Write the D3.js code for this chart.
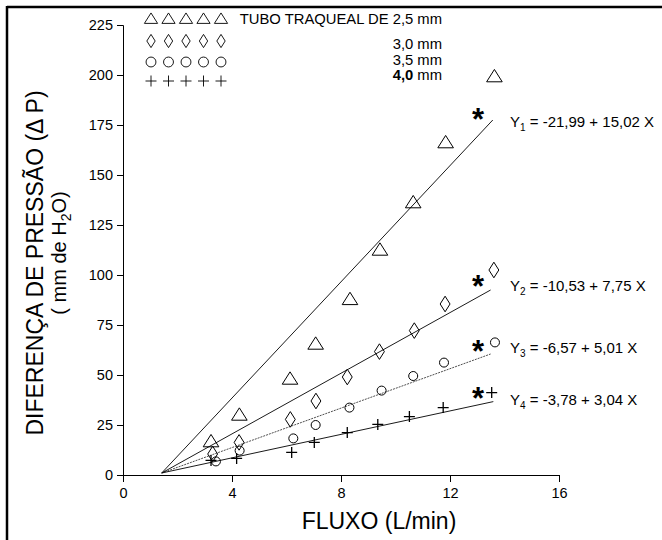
<!DOCTYPE html>
<html>
<head>
<meta charset="utf-8">
<script src="https://cdn.jsdelivr.net/npm/d3@7"></script>
<style>
  body { margin: 0; background: #fff; }
  svg text { font-family: "Liberation Sans", Arial, sans-serif; fill: #000; }
</style>
</head>
<body>
<div id="graph"></div>
<script>
// dados
let xTicks = [0, 4, 8, 12, 16];
let yTicks = [0, 25, 50, 75, 100, 125, 150, 175, 200, 225];

let tubo25 = [[3.23, 16.7], [4.27, 30], [6.13, 48], [7.07, 65.5], [8.33, 87.8], [9.43, 112.5], [10.65, 136.2], [11.84, 166.2], [13.63, 199.2]];
let tubo30 = [[3.29, 10.5], [4.26, 16.3], [6.14, 27.8], [7.08, 37], [8.23, 49], [9.41, 61.7], [10.69, 72.2], [11.82, 85.5], [13.61, 102.5]];
let tubo35 = [[3.41, 6.8], [4.28, 12.2], [6.25, 18.3], [7.07, 25], [8.31, 33.7], [9.49, 42.2], [10.65, 49.5], [11.78, 56.2], [13.65, 66.3]];
let tubo40 = [[3.23, 7.3], [4.17, 8.3], [6.19, 11.3], [7.02, 16.3], [8.23, 21.2], [9.35, 25.3], [10.51, 29.2], [11.75, 33.7], [13.53, 41.2]];

// retas de regressao (pontos inicial e final como aparecem)
let reta1 = [[1.42, 1], [13.57, 177.5]];
let reta2 = [[1.42, 1], [13.49, 92.5]];
let reta3 = [[1.42, 1], [13.49, 60.5]];
let reta4 = [[1.42, 1], [13.59, 36.7]];

let equacoes = [
  { y: "1", txt: " = -21,99 + 15,02 X" },
  { y: "2", txt: " = -10,53 + 7,75 X" },
  { y: "3", txt: " = -6,57 + 5,01 X" },
  { y: "4", txt: " = -3,78 + 3,04 X" }
];
let legenda = ["TUBO TRAQUEAL DE 2,5 mm", "3,0 mm", "3,5 mm", "4,0 mm"];

var svgWidth = 662;
var svgHeight = 540;
var margin = { top: 25, right: 103, bottom: 65, left: 123 };
var chartWidth = svgWidth - margin.left - margin.right;
var chartHeight = svgHeight - margin.top - margin.bottom;

var svg = d3.select("#graph").append("svg")
  .attr("width", svgWidth)
  .attr("height", svgHeight);

// moldura (so topo e esquerda aparecem)
svg.append("line").attr("x1", 7).attr("x2", svgWidth).attr("y1", 7).attr("y2", 7)
  .attr("stroke", "#000").attr("stroke-width", 2.5);
svg.append("line").attr("x1", 7).attr("x2", 7).attr("y1", 6).attr("y2", svgHeight)
  .attr("stroke", "#000").attr("stroke-width", 2.5);

var chartGroup = svg.append("g")
  .attr("transform", `translate(${margin.left}, ${margin.top})`);

var x = d3.scaleLinear().domain([0, 16]).range([0, chartWidth]);
var y = d3.scaleLinear().domain([0, 225]).range([chartHeight, 0]);

var leftAxis = d3.axisLeft(y).tickValues(yTicks).tickSizeOuter(0).tickSize(6).tickPadding(4);
var bottomAxis = d3.axisBottom(x).tickValues(xTicks).tickSizeOuter(0).tickSize(7).tickPadding(6);

chartGroup.append("g").classed("axis", true).call(leftAxis);
chartGroup.append("g").classed("axis", true)
  .attr("transform", `translate(0, ${chartHeight})`)
  .call(bottomAxis);

chartGroup.selectAll(".axis text")
  .style("font-family", "Liberation Sans, Arial, sans-serif")
  .style("font-size", "14.5px");
chartGroup.selectAll(".axis path, .axis line").attr("stroke", "#000");

// simbolos
function simbolo(tipo, s) {
  var p = d3.path();
  if (tipo == "tri") {
    p.moveTo(0, -s * 0.55); p.lineTo(s * 0.6, s * 0.4); p.lineTo(-s * 0.6, s * 0.4); p.closePath();
  } else if (tipo == "dia") {
    p.moveTo(0, -s * 0.6); p.lineTo(s * 0.38, 0); p.lineTo(0, s * 0.6); p.lineTo(-s * 0.38, 0); p.closePath();
  } else if (tipo == "cir") {
    p.moveTo(s * 0.45, 0); p.arc(0, 0, s * 0.45, 0, 2 * Math.PI);
  } else {
    p.moveTo(-s * 0.5, 0); p.lineTo(s * 0.5, 0); p.moveTo(0, -s * 0.5); p.lineTo(0, s * 0.5);
  }
  return p.toString();
}

var drawLine = d3.line().x(d => x(d[0])).y(d => y(d[1]));

chartGroup.append("path").attr("d", drawLine(reta1)).attr("fill", "none").attr("stroke", "#000").attr("stroke-width", 0.9);
chartGroup.append("path").attr("d", drawLine(reta2)).attr("fill", "none").attr("stroke", "#000").attr("stroke-width", 0.9);
chartGroup.append("path").attr("d", drawLine(reta3)).attr("fill", "none").attr("stroke", "#222").attr("stroke-width", 0.8).attr("stroke-dasharray", "2,1");
chartGroup.append("path").attr("d", drawLine(reta4)).attr("fill", "none").attr("stroke", "#000").attr("stroke-width", 0.9);

var series = [
  { dados: tubo25, tipo: "tri", s: 13 },
  { dados: tubo30, tipo: "dia", s: 13 },
  { dados: tubo35, tipo: "cir", s: 10 },
  { dados: tubo40, tipo: "plus", s: 11 }
];

series.forEach(function (serie) {
  chartGroup.selectAll(null).data(serie.dados).enter()
    .append("path")
    .attr("transform", d => `translate(${x(d[0])}, ${y(d[1])})`)
    .attr("d", simbolo(serie.tipo, serie.s))
    .attr("fill", "none")
    .attr("stroke", "#000")
    .attr("stroke-width", serie.tipo == "plus" ? 1.3 : 1);
});

// asteriscos e equacoes
var eqY = [121.7, 285.7, 348.3, 400];
var astY = [115, 281.7, 347.3, 394];

astY.forEach(function (v) {
  svg.append("text")
    .attr("x", 478).attr("y", v + 15)
    .attr("text-anchor", "middle")
    .style("font-size", "31px").style("font-weight", "bold")
    .text("*");
});

equacoes.forEach(function (e, i) {
  var t = svg.append("text")
    .attr("x", 510).attr("y", eqY[i] + 5)
    .style("font-size", "15px");
  t.append("tspan").text("Y");
  t.append("tspan").attr("dy", 4).style("font-size", "10px").text(e.y);
  t.append("tspan").attr("dy", -4).text(e.txt);
});

// legenda
var legSimbY = [19, 41, 62, 81];
var legTextY = [19, 44, 60, 75];
var legTipos = ["tri", "dia", "cir", "plus"];
legTipos.forEach(function (tp, i) {
  for (var k = 0; k < 5; k++) {
    svg.append("path")
      .attr("transform", `translate(${151 + k * 17.5}, ${legSimbY[i]})`)
      .attr("d", simbolo(tp, 11))
      .attr("fill", "none").attr("stroke", "#000").attr("stroke-width", 0.9);
  }
  var lt = svg.append("text")
    .attr("x", 442).attr("y", legTextY[i] + 5)
    .attr("text-anchor", "end")
    .style("font-size", "14.8px");
  if (i == 3) {
    lt.append("tspan").style("font-weight", "bold").text(legenda[i].split(" ")[0]);
    lt.append("tspan").text(" " + legenda[i].split(" ")[1]);
  } else {
    lt.text(legenda[i]);
  }
});

// titulos dos eixos
svg.append("text")
  .attr("transform", "translate(43, 263) rotate(-90)")
  .attr("text-anchor", "middle")
  .style("font-size", "23px")
  .text("DIFERENÇA DE PRESSÃO (Δ P)");

var t2 = svg.append("text")
  .attr("transform", "translate(66, 253) rotate(-90)")
  .attr("text-anchor", "middle")
  .style("font-size", "20px");
t2.append("tspan").text("( mm de H");
t2.append("tspan").attr("dy", 5).style("font-size", "14px").text("2");
t2.append("tspan").attr("dy", -5).text("O)");

svg.append("text")
  .attr("x", 379).attr("y", 529)
  .attr("text-anchor", "middle")
  .style("font-size", "23px")
  .text("FLUXO (L/min)");
</script>
</body>
</html>
